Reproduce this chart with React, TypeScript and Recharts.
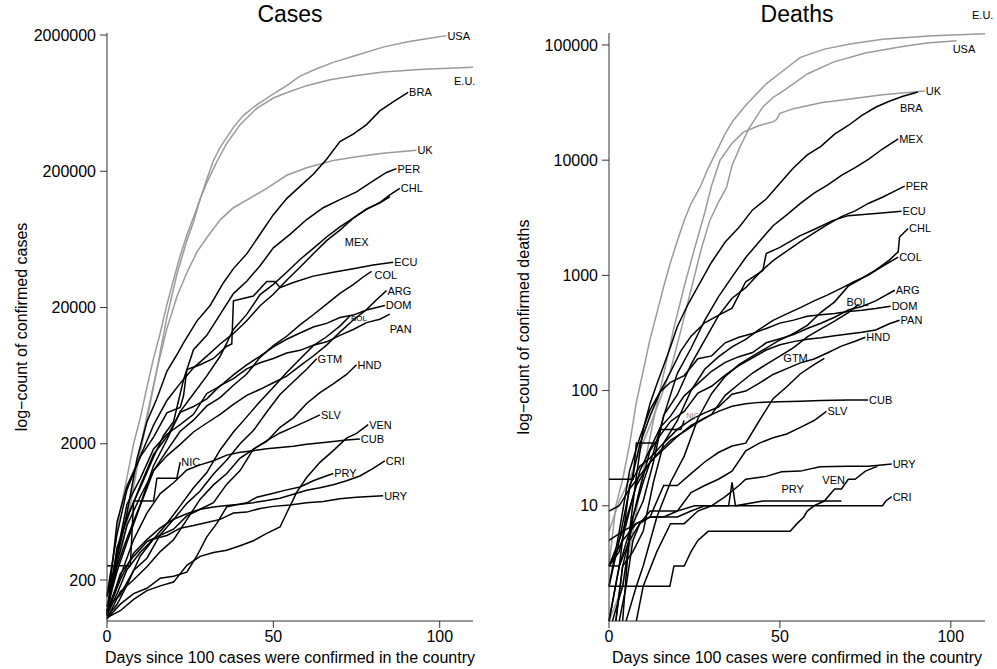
import React from "react";
import { LineChart, Line, XAxis, YAxis } from "recharts";

type Pt = [number, number];

const FONT = '"Liberation Sans", Arial, Helvetica, sans-serif';

// ---- cases: [day since 100th case, confirmed cases]
const usaCases: Pt[] = [[0,118],[3,230],[6,520],[9,1300],[12,3000],[15,7000],[18,17000],[21,35000],[24,62000],[26,85000],[28,125000],[30,175000],[32,240000],[34,300000],[38,420000],[41,515000],[45,615000],[50,740000],[54,850000],[58,1000000],[63,1130000],[68,1260000],[75,1420000],[83,1630000],[90,1780000],[96,1880000],[102,1980000]];
const euCases: Pt[] = [[0,150],[2,320],[4,650],[6,1130],[8,2000],[10,3100],[12,5200],[14,8500],[16,13000],[18,21000],[20,32000],[22,48000],[24,68000],[26,92000],[28,125000],[30,165000],[33,235000],[36,320000],[40,440000],[45,580000],[50,690000],[55,770000],[60,850000],[67,940000],[75,1010000],[83,1070000],[95,1120000],[110,1160000]];
const ukCases: Pt[] = [[0,115],[3,270],[6,600],[9,1400],[12,3200],[15,7000],[18,14000],[21,24000],[24,36000],[27,51000],[30,65000],[34,88000],[38,108000],[43,127000],[48,150000],[54,187000],[60,212000],[68,240000],[75,256000],[83,271000],[93,285000]];
const braCases: Pt[] = [[0,151],[3,290],[6,620],[9,1550],[12,2900],[15,4300],[18,6800],[21,9000],[23,11000],[27,15900],[31,20700],[35,30400],[38,38600],[42,49500],[46,69000],[50,96000],[54,126000],[58,155000],[62,190000],[66,245000],[70,330000],[74,375000],[78,440000],[82,555000],[86,645000],[90.5,760000]];
const perCases: Pt[] = [[0,117],[3,318],[6,580],[10,950],[14,1600],[17,2300],[20,2900],[23,5900],[26,9800],[30,12500],[34,17800],[38,25300],[42,31200],[46,40500],[50,54800],[55,68800],[60,88500],[65,108000],[70,124000],[75,141000],[80,170000],[84,196000],[87,209000]];
const chlCases: Pt[] = [[0,156],[3,430],[6,920],[10,1610],[14,2740],[18,4160],[22,5550],[26,7210],[30,8800],[34,10800],[38,12900],[42,16000],[46,20600],[50,25000],[54,31700],[58,39500],[62,49600],[66,61900],[70,73900],[74,90600],[78,105000],[82,118000],[85,134000],[88,150000]];
const mexCases: Pt[] = [[0,118],[3,251],[6,405],[10,717],[14,1380],[18,2140],[22,3440],[26,4660],[30,6300],[34,8770],[38,13800],[42,17800],[46,24900],[50,29600],[54,36300],[58,45000],[62,54300],[66,65900],[70,78000],[74,90700],[78,105700],[82,117100],[85,130000]];
const ecuCases: Pt[] = [[0,111],[3,532],[6,981],[10,1600],[14,2240],[18,3370],[22,3700],[23,4500],[24,7000],[28,7600],[32,8450],[36,10400],[37.5,10800],[38,22400],[44,24300],[48,31000],[50.5,31000],[52,28000],[56,30500],[62,34000],[68,36300],[74,38500],[80,41000],[86,43000]];
const colCases: Pt[] = [[0,128],[3,231],[6,378],[10,702],[14,1270],[18,1780],[22,2470],[26,2980],[30,3790],[34,4360],[38,5380],[42,6500],[46,8610],[50,10500],[54,12300],[58,14900],[62,17700],[66,21200],[70,25400],[74,29400],[77,33500],[79.5,36800]];
const argCases: Pt[] = [[0,128],[3,266],[6,502],[10,820],[14,1270],[18,1630],[22,1980],[26,2440],[30,2840],[34,3290],[38,3890],[42,4530],[46,5020],[50,5610],[54,6280],[58,7470],[62,8810],[66,10600],[70,13200],[74,16200],[78,19300],[81,22800],[84,26600]];
const domCases: Pt[] = [[0,112],[3,312],[6,719],[10,1110],[14,1830],[18,2350],[22,2760],[26,3290],[30,4680],[34,5300],[38,6400],[42,7580],[46,8810],[50,10300],[54,11700],[58,13000],[62,14400],[66,15300],[70,16900],[74,17600],[78,19200],[83.5,20700]];
const bolCases: Pt[] = [[0,107],[3,132],[6,183],[10,300],[14,400],[18,520],[22,700],[26,950],[30,1230],[34,1800],[38,2440],[42,3150],[46,4090],[50,5190],[54,6660],[58,8390],[62,10500],[66,12200],[70,14600],[73,17300]];
const panCases: Pt[] = [[0,109],[3,345],[6,558],[10,989],[14,1670],[18,2250],[22,3400],[26,3750],[30,4270],[34,5340],[38,6020],[42,7090],[46,7870],[50,8450],[54,9270],[58,9700],[62,10580],[66,11200],[70,12500],[74,13800],[78,15500],[82,16400],[85,17900]];
const gtmCases: Pt[] = [[0,126],[4,156],[8,235],[12,289],[16,430],[20,557],[24,730],[28,900],[32,1200],[36,1520],[40,2000],[44,2500],[48,3420],[52,4600],[56,5700],[60,7050],[63,8400]];
const hndCases: Pt[] = [[0,110],[4,222],[8,298],[12,382],[16,426],[20,472],[24,591],[28,661],[32,738],[36,1010],[40,1270],[44,1830],[48,2080],[52,2640],[56,3100],[60,3950],[64,4750],[68,5500],[72,6450],[75,7600]];
const slvCases: Pt[] = [[0,103],[4,164],[8,201],[12,250],[16,323],[20,395],[24,555],[28,784],[32,998],[36,1210],[40,1570],[44,1820],[48,2110],[52,2400],[56,2650],[60,2930],[64,3260]];
const venCases: Pt[] = [[0,106],[4,119],[8,144],[12,167],[16,181],[20,193],[24,256],[28,298],[32,318],[36,331],[40,357],[44,388],[48,440],[52,490],[54,620],[57,880],[60,1130],[64,1460],[68,1780],[72,2200],[75,2380],[78.5,2760]];
const cubCases: Pt[] = [[0,119],[4,212],[8,396],[12,620],[16,862],[20,1035],[24,1285],[28,1400],[32,1500],[36,1650],[40,1730],[44,1780],[48,1840],[52,1880],[56,1920],[60,1980],[66,2050],[72,2130],[76,2170]];
const criCases: Pt[] = [[0,113],[4,201],[8,314],[12,396],[16,483],[20,558],[24,612],[28,660],[32,687],[36,705],[40,719],[44,739],[48,765],[52,797],[56,853],[60,911],[64,951],[68,1000],[72,1070],[76,1160],[80,1320],[83.5,1500]];
const pryCases: Pt[] = [[0,104],[4,133],[8,159],[12,174],[16,206],[20,213],[24,228],[27,300],[30,415],[33,520],[36,690],[42,737],[45,810],[50,865],[54,917],[58,964],[62,1070],[65,1140],[68,1210]];
const uryCases: Pt[] = [[0,110],[3,158],[6,238],[10,320],[14,400],[18,424],[22,480],[26,502],[30,528],[34,557],[38,620],[42,630],[46,670],[50,694],[55,711],[60,738],[65,753],[70,790],[75,810],[83,830]];
const nicCases: Pt[] = [[0,254],[7,254],[8,759],[14,759],[15,1118],[21,1118],[22,1464]];

// ---- deaths: [day since 100th case, confirmed deaths]
const usaDeaths: Pt[] = [[0,6],[3,11],[6,17],[9,30],[12,50],[15,85],[18,150],[21,330],[24,750],[27,1700],[29.5,3000],[32,4300],[34.4,5800],[36,9000],[38.3,13000],[41,19000],[45,29000],[48,35000],[51,40000],[58,56000],[65.6,71000],[75,85000],[85,96000],[93,104000],[101.7,109000]];
const euDeaths: Pt[] = [[0,3],[2,10],[4,17],[6,34],[8,79],[10,148],[12,280],[14,470],[16,800],[18,1300],[20,2000],[22,3000],[24,4200],[26.6,5800],[29,8500],[31.5,12000],[34,17000],[36.3,22000],[40,30000],[46,46000],[51,60000],[56,78000],[63,92000],[70.5,102000],[80,112000],[94.7,120000],[110,125000]];
const ukDeaths: Pt[] = [[0,1],[4,2],[7,6],[10,20],[13,55],[16,140],[19,350],[22,800],[25,1700],[28,3500],[30,6000],[32.5,10000],[36,14000],[39.3,17500],[44,20000],[48,21500],[49,22500],[50,25500],[54,28000],[62,31500],[70.5,34000],[80,37000],[92.4,39800]];
const braDeaths: Pt[] = [[4,1],[6,6],[8,18],[10,46],[12,77],[14,114],[16,165],[18,240],[20,360],[23,553],[26,800],[30,1300],[34,1950],[38,2600],[42,3700],[46,4600],[50,6300],[54,8600],[58,11100],[62,13200],[66,16800],[70,20000],[74,24500],[78,28800],[82,32500],[86,35900],[90.4,39000]];
const mexDeaths: Pt[] = [[1,1],[4,2],[7,8],[10,16],[13,29],[16,60],[20,141],[24,233],[28,406],[32,650],[36,970],[40,1430],[44,1970],[48,2700],[52,3350],[56,4220],[60,5180],[64,6090],[68,7390],[72,8600],[76,10200],[80,12500],[84.6,15300]];
const perDeaths: Pt[] = [[2,1],[4,3],[7,7],[10,11],[13,24],[16,61],[20,92],[24,169],[28,274],[32,445],[36,634],[40,782],[44,1051],[48,1344],[52,1627],[56,1961],[60,2340],[64,2770],[68,3240],[72,3630],[76,4230],[80,4770],[84,5470],[86.5,5960]];
const ecuDeaths: Pt[] = [[0,2],[3,5],[6,14],[9,34],[12,60],[15,98],[18,145],[21,220],[24,297],[28,388],[32,450],[36,520],[40,880],[45,1100],[46,1550],[50,1750],[55.8,2200],[60,2500],[65.6,3000],[70,3300],[78,3450],[85.6,3600]];
const chlDeaths: Pt[] = [[5,1],[8,2],[10,3],[14,8],[18,16],[22,27],[26,57],[30,94],[34,133],[38,168],[42,199],[46,234],[50,275],[54,313],[58,368],[62,478],[66,589],[70,806],[74,944],[78,1113],[82,1356],[84.6,1600],[85,2150],[87.5,2550]];
const colDeaths: Pt[] = [[2,1],[4,3],[7,4],[10,6],[13,16],[16,35],[20,55],[24,100],[28,153],[32,196],[36,240],[40,278],[44,340],[48,407],[52,463],[56,525],[60,600],[64,678],[68,776],[72,890],[76,1009],[80,1200],[84.6,1440]];
const argDeaths: Pt[] = [[0,3],[3,4],[6,9],[9,20],[12,31],[15,48],[18,60],[22,90],[26,115],[30,147],[34,176],[38,197],[42,214],[46,260],[50,282],[54,306],[58,346],[62,384],[66,433],[70,500],[74,537],[78,600],[83.6,743]];
const domDeaths: Pt[] = [[0,2],[3,6],[6,20],[9,39],[12,68],[15,98],[18,118],[22,135],[26,189],[30,200],[34,260],[38,290],[42,313],[46,346],[50,385],[54,409],[58,441],[62,456],[66,466],[70,485],[74,498],[78,515],[82.4,540]];
const bolDeaths: Pt[] = [[0,9],[3,10],[6,14],[10,20],[14,28],[18,37],[22,44],[26,53],[30,62],[34,91],[38,114],[42,142],[46,169],[50,199],[54,236],[58,293],[62,343],[66,400],[70,476],[73,560]];
const panDeaths: Pt[] = [[0,1],[3,3],[6,6],[9,14],[12,30],[15,41],[18,54],[22,66],[26,95],[30,109],[34,136],[38,165],[42,192],[46,225],[50,250],[54,266],[58,279],[62,287],[66,299],[70,310],[74,321],[78,336],[82,380],[85,408]];
const hndDeaths: Pt[] = [[0,1],[3,3],[6,15],[9,22],[12,26],[16,35],[20,46],[24,56],[28,64],[32,72],[36,93],[40,99],[44,116],[48,138],[52,155],[56,174],[60,188],[64,213],[68,243],[72,268],[75,290]];
const gtmDeaths: Pt[] = [[0,3],[4,5],[8,7],[12,8],[16,15],[20,15],[24,19],[28,24],[32,29],[36,33],[40,35],[44,55],[48,85],[52,108],[56,140],[60,168],[63,190]];
const cubDeaths: Pt[] = [[0,3],[4,6],[8,15],[12,24],[16,31],[20,40],[24,50],[28,58],[32,66],[36,73],[40,77],[44,79],[50,80],[56,81],[62,82],[70,83],[75.8,83]];
const slvDeaths: Pt[] = [[0,5],[4,6],[8,7],[12,8],[16,8],[20,9],[24,13],[28,15],[32,17],[36,20],[40,30],[44,35],[48,39],[52,42],[56,48],[60,55],[63.6,66]];
const venDeaths: Pt[] = [[3,1],[5,2],[7,5],[9,7],[12,9],[20,9],[25,10],[60,10],[63,11],[66,14],[68,14],[70,17],[72,17],[75,20],[78.5,22]];
const pryDeaths: Pt[] = [[0,3],[3,3],[6,5],[9,7],[12,8],[16,8],[20,8],[24,9],[28,10],[35,10],[36,16],[37,10],[45,11],[68,11]];
const uryDeaths: Pt[] = [[8,1],[10,2],[14,4],[18,7],[22,7],[26,9],[30,10],[34,12],[38,15],[40,17],[46,18],[50.5,19.7],[56,20],[61.7,21.8],[70,22],[76,22],[82.7,23]];
const criDeaths: Pt[] = [[0,2],[17.8,2],[19,3],[22,3],[24,4],[26,5],[29,6],[53,6],[55,7],[57,8],[58,9],[60,10],[80,10],[81,11],[82.7,12]];
const nicDeaths: Pt[] = [[0,17],[7,17],[8,35],[14,35],[15,46],[21,46],[22,55]];

const X_TICKS = [0, 50, 100];
const CASE_TICKS = [200, 2000, 20000, 200000, 2000000];
const DEATH_TICKS = [10, 100, 1000, 10000, 100000];

const GRAY = ["USA", "E.U.", "UK"];

const CASES: [string, Pt[]][] = [
  ["USA", usaCases], ["E.U.", euCases], ["UK", ukCases],
  ["BRA", braCases], ["PER", perCases], ["CHL", chlCases], ["MEX", mexCases],
  ["ECU", ecuCases], ["COL", colCases], ["ARG", argCases], ["DOM", domCases],
  ["BOL", bolCases], ["PAN", panCases], ["GTM", gtmCases], ["HND", hndCases],
  ["SLV", slvCases], ["VEN", venCases], ["CUB", cubCases], ["CRI", criCases],
  ["PRY", pryCases], ["URY", uryCases], ["NIC", nicCases],
];

const DEATHS: [string, Pt[]][] = [
  ["USA", usaDeaths], ["E.U.", euDeaths], ["UK", ukDeaths],
  ["BRA", braDeaths], ["MEX", mexDeaths], ["PER", perDeaths], ["ECU", ecuDeaths],
  ["CHL", chlDeaths], ["COL", colDeaths], ["ARG", argDeaths], ["DOM", domDeaths],
  ["BOL", bolDeaths], ["PAN", panDeaths], ["HND", hndDeaths], ["GTM", gtmDeaths],
  ["CUB", cubDeaths], ["SLV", slvDeaths], ["VEN", venDeaths], ["PRY", pryDeaths],
  ["URY", uryDeaths], ["CRI", criDeaths], ["NIC", nicDeaths],
];

// label placement (offset from the last point), kept apart from the data
type LabelOpt = { dx: number; dy: number; size?: number; color?: string };
const CASE_LABELS: Record<string, LabelOpt> = {
  "E.U.": { dx: -19, dy: 14 },
  MEX: { dx: -45, dy: 45 },
  PAN: { dx: 0, dy: 15 },
  COL: { dx: 3, dy: 4 },
  BOL: { dx: 1, dy: 2, size: 8 },
};
const DEATH_LABELS: Record<string, LabelOpt> = {
  "E.U.": { dx: -13, dy: -19 },
  USA: { dx: -4, dy: 8 },
  BRA: { dx: -18, dy: 16 },
  BOL: { dx: -12, dy: -2 },
  GTM: { dx: -41, dy: 0 },
  VEN: { dx: -55, dy: 14 },
  PRY: { dx: -60, dy: -12 },
  NIC: { dx: 2, dy: -5, size: 7.5, color: "#888" },
};

const AXIS = "#333";

function Panel({ left, width, rightMargin, yWidth, domain, ticks, series, labels }: {
  left: number; width: number; rightMargin: number; yWidth: number;
  domain: [number, number]; ticks: number[];
  series: [string, Pt[]][]; labels: Record<string, LabelOpt>;
}) {
  return (
    <div style={{ position: "absolute", left, top: 0 }}>
      <LineChart width={width} height={669} margin={{ top: 33, right: rightMargin, bottom: 0, left: 0 }}>
        <XAxis
          type="number" dataKey="day" domain={[0, 110]} ticks={X_TICKS} height={48}
          axisLine={{ stroke: AXIS }} tickLine={{ stroke: AXIS }} tickSize={7} tickMargin={3}
          tick={{ fontSize: 16, fill: "#000", fontFamily: FONT }}
        />
        <YAxis
          type="number" scale="log" domain={domain} ticks={ticks} width={yWidth}
          tickFormatter={(v) => String(v)}
          axisLine={{ stroke: AXIS }} tickLine={{ stroke: AXIS }} tickSize={7} tickMargin={4}
          tick={{ fontSize: 16, fill: "#000", fontFamily: FONT }}
        />
        {series.map(([name, pts]) => {
          const gray = GRAY.includes(name);
          const n = pts.length;
          const o = labels[name] || { dx: 1, dy: 0 };
          const size = o.size || 11;
          return (
            <Line
              key={name}
              data={pts.map(([day, v]) => ({ day, v }))}
              dataKey="v"
              type="linear"
              stroke={gray ? "#9a9a9a" : "#000"}
              strokeWidth={1.5}
              isAnimationActive={false}
              activeDot={false}
              dot={(p: any) =>
                p.index === n - 1 ? (
                  <text key={p.index} x={p.cx + o.dx} y={p.cy + o.dy + size * 0.36}
                    fontSize={size} fill={o.color || "#000"} fontFamily={FONT}>
                    {name}
                  </text>
                ) : (
                  <g key={p.index} />
                )
              }
            />
          );
        })}
      </LineChart>
    </div>
  );
}

const txt: React.CSSProperties = {
  position: "absolute", fontFamily: FONT, color: "#000", whiteSpace: "nowrap", lineHeight: 1,
};

export default function App() {
  return (
    <div style={{ position: "fixed", left: 0, top: 0, width: 997, height: 669, background: "#fff", overflow: "hidden" }}>
      <Panel left={0} width={500} rightMargin={27} yWidth={107}
        domain={[100, 2070000]} ticks={CASE_TICKS} series={CASES} labels={CASE_LABELS} />
      <Panel left={500} width={497} rightMargin={12} yWidth={109}
        domain={[1, 127000]} ticks={DEATH_TICKS} series={DEATHS} labels={DEATH_LABELS} />

      <div style={{ ...txt, fontSize: 23, left: 290, top: 3, transform: "translateX(-50%)" }}>Cases</div>
      <div style={{ ...txt, fontSize: 23, left: 797, top: 3, transform: "translateX(-50%)" }}>Deaths</div>

      <div style={{ ...txt, fontSize: 16, left: 290, top: 650, transform: "translateX(-50%)" }}>
        Days since 100 cases were confirmed in the country
      </div>
      <div style={{ ...txt, fontSize: 16, left: 797, top: 650, transform: "translateX(-50%)" }}>
        Days since 100 cases were confirmed in the country
      </div>

      <div style={{ ...txt, fontSize: 16, left: 22, top: 327, transform: "translate(-50%, -50%) rotate(-90deg)" }}>
        log−count of confirmed cases
      </div>
      <div style={{ ...txt, fontSize: 16, left: 524, top: 327, transform: "translate(-50%, -50%) rotate(-90deg)" }}>
        log−count of confirmed deaths
      </div>
    </div>
  );
}
